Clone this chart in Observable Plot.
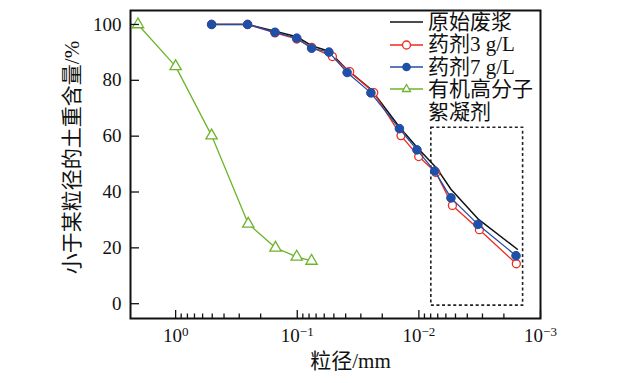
<!DOCTYPE html>
<html><head><meta charset="utf-8">
<script src="https://cdn.jsdelivr.net/npm/d3@7"></script>
<script src="https://cdn.jsdelivr.net/npm/@observablehq/plot@0.6"></script>
<style>
body{margin:0;background:#fff;}
#wrap{position:relative;width:629px;height:383px;}
#legend{position:absolute;left:388px;top:11px;font-family:'Liberation Serif','Noto Sans CJK SC',serif;font-size:21px;line-height:22.4px;color:#111;}
.row{display:flex;align-items:center;height:22.4px;white-space:nowrap}
.row svg{width:36px;height:22px;margin-right:4px;flex:none}
</style></head><body><div id="wrap"><div id="legend"></div></div>
<script>
// ---- data ----
const seriesNames = ["原始废浆", "药剂3 g/L", "药剂7 g/L", "有机高分子", "絮凝剂"];
const blackSize = [0.506,0.256,0.1525,0.101,0.0762,0.0549,0.0389,0.0248,0.01446,0.01037,0.0071,0.00545,0.00327,0.00155];
const blackVal  = [100,100,97.6,95.6,92.4,90.4,83.8,76.8,63.3,56.0,48.4,41.0,30.4,19.5];
const redSize   = [0.506,0.256,0.1525,0.101,0.0762,0.0514,0.0371,0.0235,0.01403,0.01004,0.00725,0.0053,0.00318,0.00158];
const redVal    = [100,100,97,94.8,91.8,88.5,83.1,75.6,60.2,52.7,47.0,35.2,26.5,14.3];
const blueSize  = [0.506,0.256,0.1525,0.101,0.0762,0.0549,0.0389,0.0248,0.01446,0.01037,0.00741,0.00545,0.00327,0.00159];
const blueVal   = [100,100,97.2,95.1,91.5,90.1,82.8,75.5,62.7,55.1,47.5,37.9,28.4,17.2];
const greenSize = [2.04,1.0,0.506,0.253,0.151,0.101,0.0763];
const greenVal  = [100,85,60.2,28.6,20,16.8,15.3];
const majorTicks = [1, 0.1, 0.01, 0.001];
const minorTicks = [0.9,0.8,0.7,0.6,0.5,0.4,0.3,0.2,
                    0.09,0.08,0.07,0.06,0.05,0.04,0.03,0.02,
                    0.009,0.008,0.007,0.006,0.005,0.004,0.003,0.002];
const yTicks = [0, 20, 40, 60, 80, 100];
const boxX = [0.0079, 0.00139];
const boxY = [-0.7, 63];
const xTitle = "粒径/mm";
const yTitle = "小于某粒径的土重含量/%";

const colors = {black: "#111111", red: "#ee2b1c", blue: "#1f4fa6", green: "#6cb42c"};
const zip = (xs, ys) => xs.map((x, i) => ({x, y: ys[i]}));
const black = zip(blackSize, blackVal), red = zip(redSize, redVal),
      blue = zip(blueSize, blueVal), green = zip(greenSize, greenVal);
const font = "'Liberation Serif','Noto Sans CJK SC',serif";

const chart = Plot.plot({
  width: 629, height: 383,
  marginLeft: 130, marginRight: 89, marginTop: 10, marginBottom: 65,
  style: {fontFamily: font, fontSize: "18px", color: "#111", background: "white"},
  x: {type: "log", domain: [2.35, 0.001]},
  y: {domain: [-5.3, 105]},
  marks: [
    Plot.rect([{x1: boxX[0], x2: boxX[1], y1: boxY[0], y2: boxY[1]}],
      {x1: "x1", x2: "x2", y1: "y1", y2: "y2", fill: "none", stroke: "#222", strokeWidth: 1.6, strokeDasharray: "3,2.6"}),
    Plot.line(green, {x: "x", y: "y", stroke: colors.green, strokeWidth: 1.3}),
    Plot.dot(green, {x: "x", y: "y", symbol: "triangle", r: 4.2, fill: "white", stroke: colors.green, strokeWidth: 1.3}),
    Plot.line(black, {x: "x", y: "y", stroke: colors.black, strokeWidth: 1.5}),
    Plot.line(red, {x: "x", y: "y", stroke: colors.red, strokeWidth: 1.3}),
    Plot.dot(red, {x: "x", y: "y", r: 4, fill: "white", stroke: colors.red, strokeWidth: 1.3}),
    Plot.line(blue, {x: "x", y: "y", stroke: colors.blue, strokeWidth: 1.3}),
    Plot.dot(blue, {x: "x", y: "y", r: 4.3, fill: colors.blue, stroke: colors.blue, strokeWidth: 1}),
    Plot.axisX(minorTicks, {tickSize: -4.5, tickFormat: () => "", label: null, strokeWidth: 1.3}),
    Plot.axisX(majorTicks, {tickSize: -8, tickFormat: () => "", label: null, strokeWidth: 1.3}),
    Plot.axisX(majorTicks, {tickSize: 0, tickPadding: 10, tickFormat: d => "10^" + Math.round(Math.log10(d)), label: null}),
    Plot.axisY(yTicks, {tickSize: -9, tickFormat: () => "", label: null, strokeWidth: 1.3}),
    Plot.axisY(yTicks, {tickSize: 0, tickPadding: 9, label: null}),
    Plot.frame({stroke: "#111", strokeWidth: 2}),
    Plot.text([xTitle], {text: d => d, frameAnchor: "bottom", dx: 15, dy: 43, lineAnchor: "middle", fontSize: 21, fill: "#111"}),
    Plot.text([yTitle], {text: d => d, frameAnchor: "left", rotate: -90, dx: -58, dy: -7, lineAnchor: "middle", textAnchor: "middle", fontSize: 21, fill: "#111"})
  ]
});

// tick label font, and superscript exponents on the x tick labels
chart.querySelectorAll('g[aria-label="y-axis tick label"] text').forEach(t => {
  t.style.fontSize = "19px";
  t.style.fontFamily = "'Liberation Serif', serif";
});
chart.querySelectorAll('g[aria-label="x-axis tick label"] text').forEach(t => {
  t.style.fontSize = "19px";
  t.style.fontFamily = "'Liberation Serif', serif";
  const s = t.textContent;
  if (!s.startsWith("10^")) return;
  const e = s.slice(3).replace("-", "\u2212");
  t.textContent = "";
  const base = document.createElementNS("http://www.w3.org/2000/svg", "tspan");
  base.textContent = "10";
  const sup = document.createElementNS("http://www.w3.org/2000/svg", "tspan");
  sup.textContent = e;
  sup.setAttribute("dy", "-6");
  sup.style.fontSize = "13px";
  t.appendChild(base); t.appendChild(sup);
});

document.getElementById("wrap").prepend(chart);

// legend
const legendItems = [
  {name: seriesNames[0], color: colors.black, marker: null},
  {name: seriesNames[1], color: colors.red, marker: "open"},
  {name: seriesNames[2], color: colors.blue, marker: "filled"},
  {name: seriesNames[3], color: colors.green, marker: "triangle"},
  {name: seriesNames[4], color: null, marker: null}
];
const lg = document.getElementById("legend");
legendItems.forEach(it => {
  const row = document.createElement("div");
  row.className = "row";
  let sw = "";
  if (it.color) {
    sw += `<line x1="2" x2="35" y1="11" y2="11" stroke="${it.color}" stroke-width="1.4"/>`;
    if (it.marker === "open") sw += `<circle cx="18.5" cy="11" r="4" fill="white" stroke="${it.color}" stroke-width="1.3"/>`;
    if (it.marker === "filled") sw += `<circle cx="18.5" cy="11" r="4.3" fill="${it.color}"/>`;
    if (it.marker === "triangle") sw += `<path d="M18.5,6.5L22.5,13.5L14.5,13.5Z" fill="white" stroke="${it.color}" stroke-width="1.3"/>`;
  }
  row.innerHTML = `<svg viewBox="0 0 36 22">${sw}</svg><span>${it.name}</span>`;
  lg.appendChild(row);
});
</script>
</body></html>
